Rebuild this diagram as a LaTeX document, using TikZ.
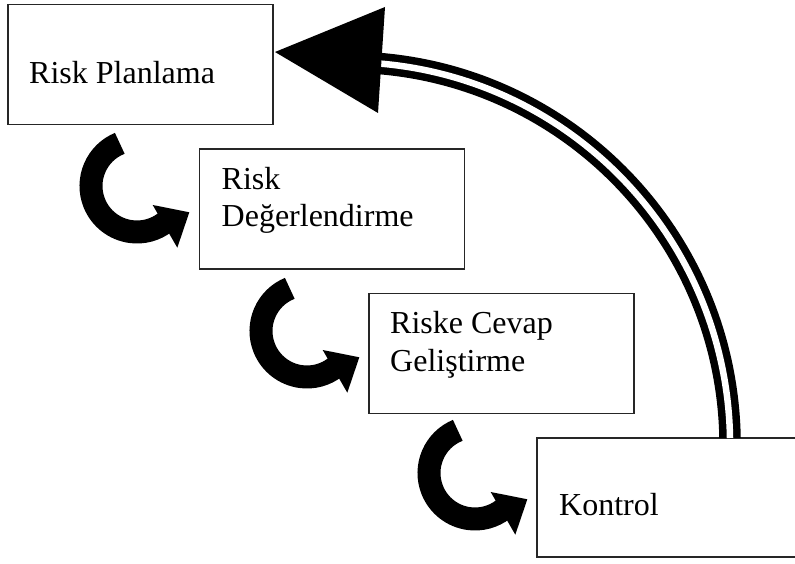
\documentclass[tikz,border=0pt]{standalone}
\usepackage{fontspec}
\setmainfont{Liberation Serif}
\begin{document}
\begin{tikzpicture}[x=1pt,y=1pt,
  stepbox/.style={draw=black!85, line width=1.4pt, fill=white, rectangle,
    minimum width=265pt, minimum height=120pt, inner sep=0pt, outer sep=0pt},
  lbl/.style={anchor=base west, inner sep=0pt, font=\fontsize{32}{37}\selectfont},
  cyc/.pic={
    \draw[line width=23pt] (112:46pt) arc[start angle=112, end angle=308, radius=46pt];
    \fill (15.7,-19) -- (52.3,-26.3) -- (40.3,-61.7) -- cycle;
  }]
\useasboundingbox (0,0) rectangle (795,564);
% boxes
\node[stepbox] (p1) at (140.5,499.5) {};
\node[stepbox] (p2) at (332,355) {};
\node[stepbox] (p3) at (501.5,210.5) {};
\node[stepbox, minimum width=300pt, minimum height=119pt] (p4) at (687,66.5) {};
% texts
\node[lbl] (t1) at ([xshift=21pt,yshift=-79pt]p1.north west) {Risk Planlama};
\node[lbl] (t2a) at ([xshift=22pt,yshift=-41pt]p2.north west) {Risk};
\node[lbl] (t2b) at ([xshift=22pt,yshift=-78pt]p2.north west) {Değerlendirme};
\node[lbl] (t3a) at ([xshift=21pt,yshift=-40pt]p3.north west) {Riske Cevap};
\node[lbl] (t3b) at ([xshift=21pt,yshift=-78pt]p3.north west) {Geliştirme};
\node[lbl] (t4) at ([xshift=22pt,yshift=-78pt]p4.north west) {Kontrol};
% curved step arrows
\pic at (137,378) {cyc};
\pic at (307,233) {cyc};
\pic at (475,91) {cyc};
% big return arc
\coordinate (arcstart) at ([xshift=193pt]p4.north west);
\coordinate (tip) at ([xshift=2pt,yshift=12.5pt]p1.east);
\draw[line width=7.5pt, double=white, double distance=6.5pt]
  (arcstart) arc[start angle=1, end angle=85.2, radius=382.5pt];
\fill (tip) -- (385,557) -- (378,451) -- cycle;
\end{tikzpicture}
\end{document}
